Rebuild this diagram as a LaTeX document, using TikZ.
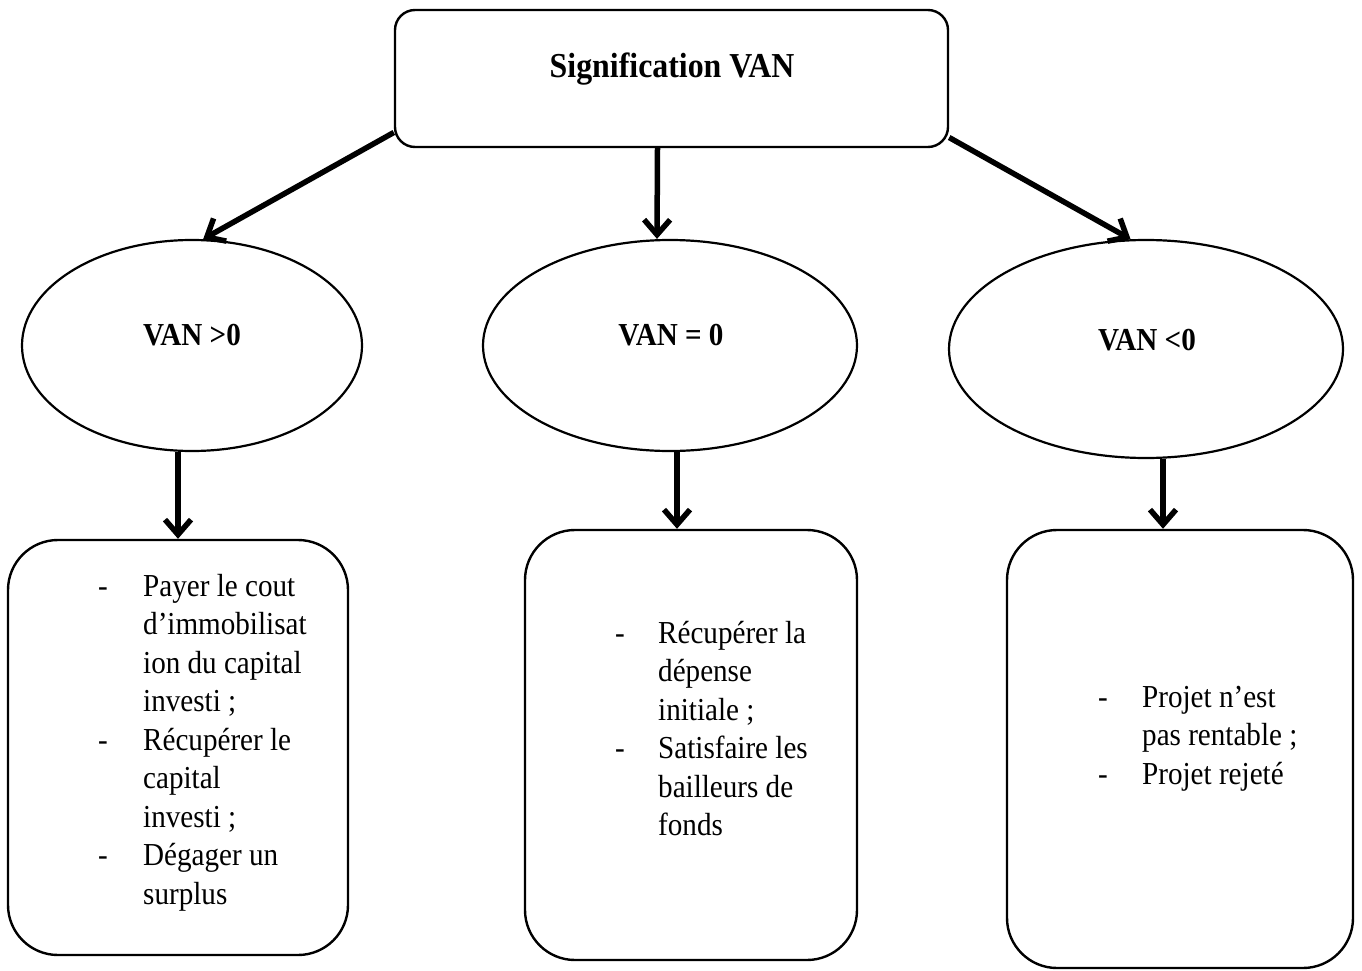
\documentclass[tikz,border=0pt]{standalone}
\usepackage{fontspec}
\setmainfont{Liberation Serif}[FakeStretch=0.91]
\usetikzlibrary{arrows.meta,shapes.geometric}

\begin{document}
\begin{tikzpicture}[x=1pt,y=-1pt,
  topbox/.style={draw,line width=2.4pt,rounded corners=20pt,inner sep=0pt},
  listbox/.style={draw,line width=2.4pt,rounded corners=50pt,inner sep=0pt},
  oval/.style={draw,ellipse,line width=2.2pt,inner sep=0pt},
  titletext/.style={font=\fontsize{35}{40}\selectfont\bfseries,inner sep=0pt},
  ovaltext/.style={font=\fontsize{32}{38}\selectfont\bfseries,inner sep=0pt},
  listtext/.style={font=\fontsize{32}{38.5}\selectfont,inner sep=0pt,anchor=base west},
  arr/.style={line width=5.5pt,-{Straight Barb[length=15pt,width=26pt]}}
]
\useasboundingbox (0,0) rectangle (1362,971);

% root box
\node[topbox,minimum width=553pt,minimum height=137pt] (top) at (671.5,78.5) {};
\node[titletext,anchor=base] (ttl) at (672,78) {Signification VAN};

% the three cases
\node[oval,minimum width=340pt,minimum height=211pt] (e1) at (192,345.5) {};
\node[oval,minimum width=374pt,minimum height=211pt] (e2) at (670,345.5) {};
\node[oval,minimum width=394pt,minimum height=218pt] (e3) at (1146,349) {};
\node[ovaltext,anchor=base] (l1) at (192,345) {VAN >0};
\node[ovaltext,anchor=base] (l2) at (671,345) {VAN = 0};
\node[ovaltext,anchor=base] (l3) at (1147,350) {VAN <0};

% consequence boxes
\node[listbox,minimum width=340pt,minimum height=415pt] (b1) at (178,747.5) {};
\node[listbox,minimum width=332pt,minimum height=430pt] (b2) at (691,745) {};
\node[listbox,minimum width=346pt,minimum height=438pt] (b3) at (1180,749) {};

\node[listtext] (t1) at (98,596) {\begin{tabular}[t]{@{}l@{}}
\makebox[45pt][l]{-}Payer le cout\\
\hspace*{45pt}d’immobilisat\\
\hspace*{45pt}ion du capital\\
\hspace*{45pt}investi ;\\
\makebox[45pt][l]{-}Récupérer le\\
\hspace*{45pt}capital\\
\hspace*{45pt}investi ;\\
\makebox[45pt][l]{-}Dégager un\\
\hspace*{45pt}surplus
\end{tabular}};

\node[listtext] (t2) at (615,643) {\begin{tabular}[t]{@{}l@{}}
\makebox[43pt][l]{-}Récupérer la\\
\hspace*{43pt}dépense\\
\hspace*{43pt}initiale ;\\
\makebox[43pt][l]{-}Satisfaire les\\
\hspace*{43pt}bailleurs de\\
\hspace*{43pt}fonds
\end{tabular}};

\node[listtext] (t3) at (1098,707) {\begin{tabular}[t]{@{}l@{}}
\makebox[44pt][l]{-}Projet n’est\\
\hspace*{44pt}pas rentable ;\\
\makebox[44pt][l]{-}Projet rejeté
\end{tabular}};

% connectors
\draw[arr] (top.191.7) -- (e1.84);
\draw[arr] ([xshift=-14pt]top.south) -- ([xshift=-13pt]e2.north);
\draw[arr] (top.348.5) -- (e3.98);
\draw[arr] (b1.north |- e1.south) -- (b1.north);
\draw[arr] ([xshift=7pt]e2.south) -- ([xshift=-14pt]b2.north);
\draw[arr] ([xshift=17pt]e3.south) -- ([xshift=-17pt]b3.north);
\end{tikzpicture}
\end{document}
